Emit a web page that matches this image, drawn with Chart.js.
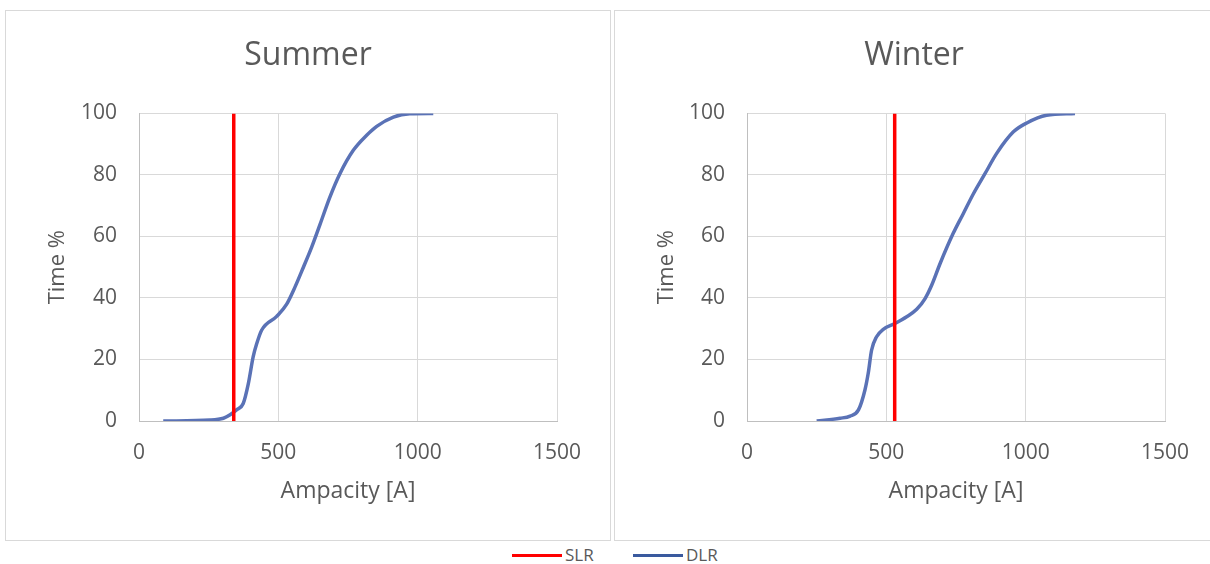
<!DOCTYPE html>
<html>
<head>
<meta charset="utf-8">
<script src="https://cdn.jsdelivr.net/npm/chart.js@4"></script>
<style>
  html, body { margin: 0; padding: 0; background: #fff; overflow: hidden; }
  body { width: 1210px; height: 564px; position: relative; font-family: "Open Sans", sans-serif; }
  .panel { position: absolute; top: 10px; height: 531px; border: 1px solid #d9d9d9; box-sizing: border-box; }
  #summer-panel { left: 5px; width: 606px; }
  #winter-panel { left: 614px; width: 600px; }
  .panel canvas { position: absolute; left: 0; top: 0; }
  .legend { position: absolute; top: 545px; left: 0; width: 1210px; height: 20px; font-size: 17px; color: #595959; }
  .legend .item { position: absolute; top: 0; line-height: 20px; }
  .legend .swatch { display: inline-block; width: 50px; height: 3px; vertical-align: middle; margin-right: 3px; position: relative; top: -1px; }
</style>
</head>
<body>
  <div class="panel" id="summer-panel"><canvas id="summer-chart" width="604" height="529"></canvas></div>
  <div class="panel" id="winter-panel"><canvas id="winter-chart" width="598" height="529"></canvas></div>
  <div class="legend">
    <span class="item" style="left: 512px;"><span class="swatch" style="background: #ff0000;"></span>SLR</span>
    <span class="item" style="left: 633px;"><span class="swatch" style="background: #3a5a9e;"></span>DLR</span>
  </div>

<script>
// cumulative share of time (%) against ampacity (A)
const summerAmp = [87, 255, 303, 327, 350, 374, 392, 410, 422, 440, 494, 530, 560, 590, 620, 650, 685, 721, 769, 817, 853, 913, 972, 1056];
const summerPct = [0, 0.3, 0.9, 2, 3.6, 5.7, 12, 21, 25, 29.5, 34, 38, 43.6, 50, 56.6, 64, 72.8, 80.4, 88, 92.9, 95.8, 98.8, 99.9, 100];

const winterAmp = [250, 334, 370, 400, 423, 435, 447, 465, 489, 531, 573, 609, 639, 663, 693, 740, 776, 812, 854, 896, 956, 1004, 1075, 1177];
const winterPct = [0, 0.9, 1.6, 3.6, 10, 15.5, 23, 27.4, 29.8, 31.7, 33.9, 36.3, 39.8, 44.2, 51.2, 61, 67.4, 73.8, 80.4, 87, 94, 96.9, 99.4, 100];

// static line rating per season
const seasons = ['Summer', 'Winter'];
const slrAmp = [340, 530];

const pctRange = [0, 100];
const ampRange = [0, 1500];

const textColor = '#595959';
const gridColor = '#d9d9d9';

function toPoints(xs, ys) {
  return xs.map((x, i) => ({ x: x, y: ys[i] }));
}

function makeChart(id, title, amp, pct, slr, padRight, axisWidth) {
  const ctx = document.getElementById(id).getContext('2d');
  return new Chart(ctx, {
    type: 'scatter',
    data: {
      datasets: [
        {
          label: 'SLR',
          data: pctRange.map((y) => ({ x: slr, y: y })),
          showLine: true,
          borderColor: '#ff0000',
          borderWidth: 3.5,
          pointRadius: 0,
        },
        {
          label: 'DLR',
          data: toPoints(amp, pct),
          showLine: true,
          borderColor: '#5a72b6',
          borderWidth: 3.5,
          pointRadius: 0,
          cubicInterpolationMode: 'monotone',
        },
      ],
    },
    options: {
      responsive: false,
      animation: false,
      layout: { padding: 0 },
      plugins: {
        legend: { display: false },
        tooltip: { enabled: false },
        title: {
          display: true,
          text: title,
          color: textColor,
          font: { family: 'Open Sans', size: 32, weight: 'normal' },
          padding: { top: 26, bottom: 38 },
        },
      },
      scales: {
        x: {
          type: 'linear',
          min: ampRange[0],
          max: ampRange[1],
          ticks: {
            stepSize: 500,
            color: textColor,
            padding: 19,
            font: { family: 'Open Sans', size: 21 },
            callback: (v) => String(v),
          },
          grid: { color: gridColor, drawTicks: false },
          border: { color: '#bfbfbf' },
          title: {
            display: true,
            text: 'Ampacity [A]',
            color: textColor,
            font: { family: 'Open Sans', size: 23 },
            padding: { top: 0, bottom: 35 },
          },
          afterFit: (scale) => { scale.height = 119; },
        },
        y: {
          min: pctRange[0],
          max: pctRange[1],
          ticks: { stepSize: 20, color: textColor, padding: 22, font: { family: 'Open Sans', size: 21 } },
          grid: { color: gridColor, drawTicks: false },
          border: { color: '#bfbfbf' },
          title: {
            display: true,
            text: 'Time %',
            color: textColor,
            font: { family: 'Open Sans', size: 22 },
            padding: { top: 39, bottom: 0 },
          },
          afterFit: (scale) => { scale.width = axisWidth; },
        },
        // empty right-hand strip so the plot stops short of the frame
        gutter: {
          type: 'linear',
          position: 'right',
          display: true,
          grid: { display: false, drawTicks: false },
          border: { display: false },
          ticks: { display: false },
          afterFit: (scale) => { scale.width = padRight; },
        },
      },
    },
  });
}

document.addEventListener('DOMContentLoaded', () => {
  makeChart('summer-chart', seasons[0], summerAmp, summerPct, slrAmp[0], 53, 133);
  makeChart('winter-chart', seasons[1], winterAmp, winterPct, slrAmp[1], 48, 132);
});
</script>
</body>
</html>
